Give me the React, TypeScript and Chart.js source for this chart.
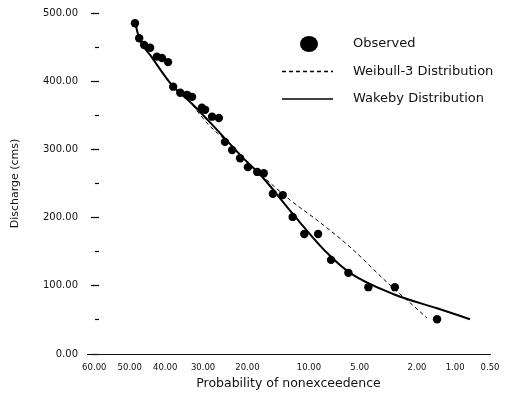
import React, { useEffect, useRef } from 'react';
import { Chart, registerables, Scale } from 'chart.js';

// ---- data ----
const probTicks = [60, 50, 40, 30, 20, 10, 5, 2, 1, 0.5];
const yTickStep = 50;

const obsProb = [48.5, 47.3, 45.9, 44.2, 42.3, 40.9, 39.2, 37.8, 35.9, 34.1, 32.8, 30.3, 29.5, 27.8, 26.2, 24.8, 23.2, 21.5, 19.9, 18.1, 16.9, 15.3, 13.7, 12.2, 10.6, 8.9, 7.5, 5.9, 4.4, 2.9, 1.4];
const obsQ = [485, 463, 453, 449, 436, 434, 428, 392, 383, 380, 377, 361, 358, 348, 346, 311, 299, 287, 274, 267, 265, 235, 233, 201, 176, 176, 138, 119, 98, 98, 51];

const weibullProb = [43.7, 38.1, 33.3, 28.8, 24.8, 17.95, 12.6, 9.0, 5.77, 3.14, 2.25, 1.68];
const weibullQ = [435, 394, 369, 337, 314, 267, 226, 196, 157, 101, 75, 53];

const wakebyProb = [48.5, 47.3, 43.7, 38.1, 32.8, 25.5, 21.1, 17.0, 12.15, 7.9, 5.77, 2.99, 1.4, 0.75];
const wakebyQ = [487, 463, 435, 394, 367, 321, 289, 258, 205, 148, 119, 88, 67, 51];

const X_LEFT_P = 62;
const X_RIGHT_P = 0.5;

// ---- normal probability scale ----
function probit(p: number): number {
  const a = [-3.969683028665376e1, 2.209460984245205e2, -2.759285104469687e2, 1.38357751867269e2, -3.066479806614716e1, 2.506628277459239];
  const b = [-5.447609879822406e1, 1.615858368580409e2, -1.556989798598866e2, 6.680131188771972e1, -1.328068155288572e1];
  const c = [-7.784894002430293e-3, -3.223964580411365e-1, -2.400758277161838, -2.549732539343734, 4.374664141464968, 2.938163982698783];
  const d = [7.784695709041462e-3, 3.224671290700398e-1, 2.445134137142996, 3.754408661907416];
  const pl = 0.02425;
  let q: number, r: number;
  if (p < pl) {
    q = Math.sqrt(-2 * Math.log(p));
    return (((((c[0] * q + c[1]) * q + c[2]) * q + c[3]) * q + c[4]) * q + c[5]) / ((((d[0] * q + d[1]) * q + d[2]) * q + d[3]) * q + 1);
  }
  if (p <= 1 - pl) {
    q = p - 0.5; r = q * q;
    return (((((a[0] * r + a[1]) * r + a[2]) * r + a[3]) * r + a[4]) * r + a[5]) * q / (((((b[0] * r + b[1]) * r + b[2]) * r + b[3]) * r + b[4]) * r + 1);
  }
  q = Math.sqrt(-2 * Math.log(1 - p));
  return -(((((c[0] * q + c[1]) * q + c[2]) * q + c[3]) * q + c[4]) * q + c[5]) / ((((d[0] * q + d[1]) * q + d[2]) * q + d[3]) * q + 1);
}
function normCdf(z: number): number {
  const t = 1 / (1 + 0.3275911 * Math.abs(z) / Math.SQRT2);
  const y = 1 - (((((1.061405429 * t - 1.453152027) * t) + 1.421413741) * t - 0.284496736) * t + 0.254829592) * t * Math.exp(-z * z / 2);
  return z >= 0 ? 0.5 * (1 + y) : 0.5 * (1 - y);
}

class ProbitScale extends Scale {
  static id = 'probit';
  static defaults = {};
  determineDataLimits() {
    (this as any).min = X_RIGHT_P;
    (this as any).max = X_LEFT_P;
  }
  buildTicks() {
    return probTicks.map((v) => ({ value: v }));
  }
  getLabelForValue(v: number) {
    return Number(v).toFixed(2);
  }
  getPixelForValue(v: number) {
    const zL = probit(X_LEFT_P / 100);
    const zR = probit(X_RIGHT_P / 100);
    const z = probit(v / 100);
    return (this as any).getPixelForDecimal((zL - z) / (zL - zR));
  }
  getValueForPixel(px: number) {
    const zL = probit(X_LEFT_P / 100);
    const zR = probit(X_RIGHT_P / 100);
    const dec = (this as any).getDecimalForPixel(px);
    return 100 * normCdf(zL - dec * (zL - zR));
  }
}

Chart.register(...registerables, ProbitScale as any);

const FONT = 'DejaVu Sans';
const INK = '#111';

const legendPlugin = {
  id: 'manualLegend',
  afterDraw(chart: any) {
    const { ctx, chartArea: ca } = chart;
    const rows = [31, 58.5, 86];
    ctx.save();
    chart.data.datasets.forEach((ds: any, i: number) => {
      const y = ca.top + rows[i];
      ctx.strokeStyle = '#000';
      ctx.fillStyle = '#000';
      if (ds.showLine === false) {
        ctx.beginPath();
        ctx.ellipse(ca.left + 222, y, 9, 8, 0, 0, Math.PI * 2);
        ctx.fill();
      } else {
        ctx.lineWidth = 1.3;
        ctx.setLineDash(ds.borderDash || []);
        ctx.beginPath();
        ctx.moveTo(ca.left + 195, y);
        ctx.lineTo(ca.left + 246, y);
        ctx.stroke();
        ctx.setLineDash([]);
      }
      ctx.fillStyle = INK;
      ctx.font = `13px "${FONT}"`;
      ctx.textBaseline = 'middle';
      ctx.textAlign = 'left';
      ctx.fillText(ds.label, ca.left + 266, y);
    });
    ctx.restore();
  },
};

export default function App() {
  const ref = useRef<HTMLCanvasElement>(null);
  useEffect(() => {
    document.body.style.margin = '0';
    const toPts = (xs: number[], ys: number[]) => xs.map((x, i) => ({ x, y: ys[i] }));
    const chart = new Chart(ref.current!, {
      type: 'line',
      data: {
        datasets: [
          {
            label: 'Observed',
            data: toPts(obsProb, obsQ),
            showLine: false,
            pointRadius: 4.2,
            pointBackgroundColor: '#000',
            pointBorderColor: '#000',
            pointBorderWidth: 0,
          },
          {
            label: 'Weibull-3 Distribution',
            data: toPts(weibullProb, weibullQ),
            borderColor: '#000',
            borderWidth: 1,
            borderDash: [4, 3],
            pointRadius: 0,
            cubicInterpolationMode: 'monotone',
          },
          {
            label: 'Wakeby Distribution',
            data: toPts(wakebyProb, wakebyQ),
            borderColor: '#000',
            borderWidth: 2,
            pointRadius: 0,
            cubicInterpolationMode: 'monotone',
          },
        ],
      } as any,
      options: {
        animation: false,
        responsive: false,
        events: [],
        layout: { padding: { top: 13, right: 19, left: 0, bottom: 0 } },
        font: { family: FONT },
        plugins: { legend: { display: false }, tooltip: { enabled: false } },
        scales: {
          x: {
            type: 'probit' as any,
            grid: { display: false, drawTicks: false },
            border: { display: true, color: '#111', width: 1 },
            ticks: {
              autoSkip: false,
              maxRotation: 0,
              padding: 9,
              color: INK,
              font: { family: FONT, size: 8.5 },
              callback: (v: any) => Number(v).toFixed(2),
            },
            title: {
              display: true,
              text: 'Probability of nonexceedence',
              color: INK,
              font: { family: FONT, size: 12.5 },
              padding: { top: 0, bottom: 8.5 },
            },
            afterFit: (s: any) => { s.height = 46; s.paddingLeft = 0; s.paddingRight = 0; },
          } as any,
          y: {
            type: 'linear',
            min: 0,
            max: 500,
            grid: {
              drawOnChartArea: false,
              drawTicks: true,
              tickLength: -12,
              tickColor: '#000',
              tickWidth: 1.2,
              tickBorderDash: (c: any) => (c.tick && Number(c.tick.value) % 100 === 0 ? [8, 100] : [4, 100]),
            },
            border: { display: false },
            ticks: {
              stepSize: yTickStep,
              autoSkip: false,
              padding: 21,
              color: INK,
              font: { family: FONT, size: 10 },
              callback: (v: any) => (Number(v) % 100 === 0 ? Number(v).toFixed(2) : ''),
            },
            title: {
              display: true,
              text: 'Discharge (cms)',
              color: INK,
              font: { family: FONT, size: 11 },
              padding: { top: 8.4, bottom: 0 },
            },
            afterFit: (s: any) => { s.width = 87; s.paddingTop = 6; s.paddingBottom = 6; },
          } as any,
        },
      },
      plugins: [legendPlugin],
    });
    return () => chart.destroy();
  }, []);
  return <canvas ref={ref} width={509} height={400} />;
}
